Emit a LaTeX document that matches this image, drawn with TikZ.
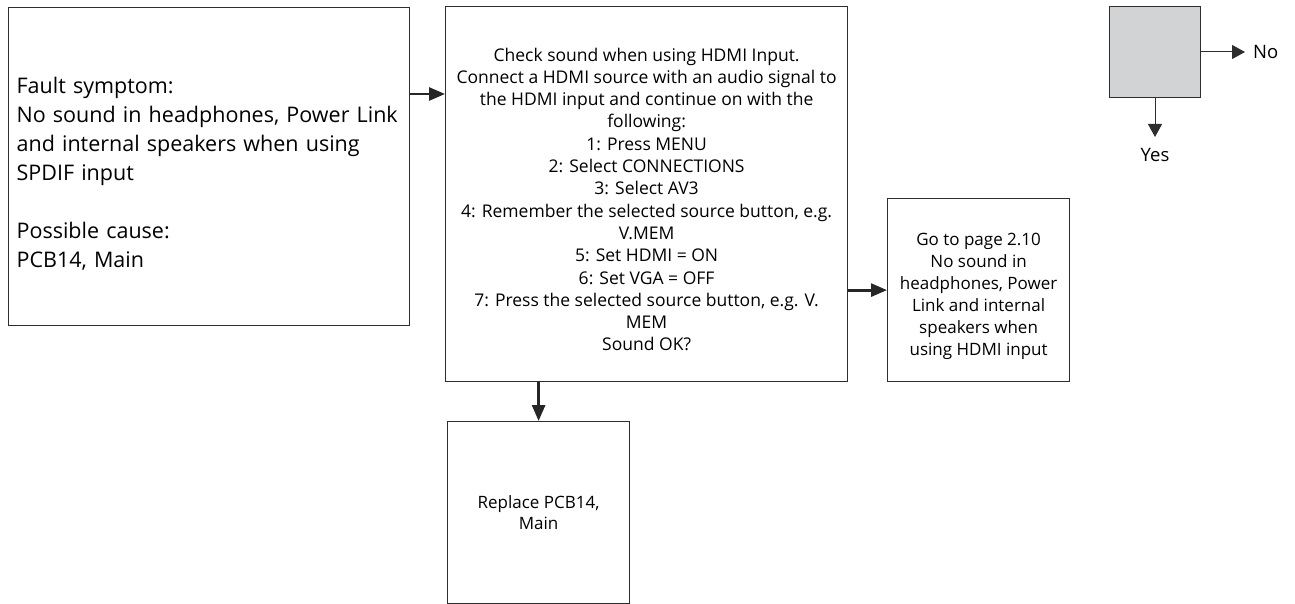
\documentclass[tikz,border=0pt]{standalone}
\usepackage{fontspec}
\setmainfont{Open Sans}
\usetikzlibrary{arrows.meta,positioning}
\definecolor{boxgray}{RGB}{210,211,213}
\definecolor{framegray}{RGB}{45,45,45}
\tikzset{
  stepbox/.style={draw=framegray,line width=1.2pt,inner sep=0pt,align=center},
  flow/.style={-{Triangle[length=16pt,width=13pt]},line width=2.8pt,draw=black!85,fill=black!85},
  legendline/.style={-{Triangle[length=13pt,width=14pt]},line width=1pt,draw=framegray}
}
\begin{document}
\begin{tikzpicture}[x=1pt,y=1pt]
  \useasboundingbox (0,0) rectangle (1295,-604);
  % fault box
  \node[stepbox,anchor=north west,minimum width=401pt,minimum height=318pt,
        text width=385pt,align=left,font=\fontsize{21.5}{29}\selectfont] (fault) at (8,-7)
    {\rule{0pt}{30pt}Fault symptom:\\No sound in headphones, Power Link\\and internal speakers when using\\SPDIF input\\[29pt]Possible cause:\\PCB14, Main};
  % check box
  \node[stepbox,anchor=north west,minimum width=402pt,minimum height=375pt,
        font=\fontsize{17.5}{22.3}\selectfont] (check) at (445,-6)
    {\rule{0pt}{24pt}Check sound when using HDMI Input.\\Connect a HDMI source with an audio signal to\\the HDMI input and continue on with the\\following:\\1: Press MENU\\2: Select CONNECTIONS\\3: Select AV3\\4: Remember the selected source button, e.g.\\V.MEM\\5: Set HDMI = ON\\6: Set VGA = OFF\\7: Press the selected source button, e.g. V.\\MEM\\Sound OK?};
  % go to box
  \node[stepbox,anchor=north west,minimum width=182pt,minimum height=183pt,
        font=\fontsize{17}{22}\selectfont] (goto) at (887,-198)
    {\rule{0pt}{24pt}Go to page 2.10\\No sound in\\headphones, Power\\Link and internal\\speakers when\\using HDMI input};
  % replace box
  \node[stepbox,anchor=north west,minimum width=182pt,minimum height=182pt,
        font=\fontsize{17}{21}\selectfont] (replace) at (447,-421)
    {Replace PCB14,\\Main};
  % legend
  \node[draw=framegray,line width=1pt,fill=boxgray,minimum size=91pt,anchor=north west] (key) at (1109,-6) {};
  \node[anchor=west,font=\fontsize{18.5}{22}\selectfont,inner sep=0pt] (no) at (1253,-52) {No};
  \node[anchor=north,font=\fontsize{18.5}{22}\selectfont,inner sep=0pt] (yes) at (1155,-148) {Yes};
  \coordinate (noend) at (1245,-52);
  \coordinate (yesend) at (1155,-137);
  \draw[legendline] (key.east |- noend) -- (noend);
  \draw[legendline] (key.south -| yesend) -- (yesend);
  % connectors
  \draw[flow] ([yshift=-87pt]fault.north east) -- ([yshift=-88pt]check.north west);
  \draw[flow] (check.east |- goto.west) -- (goto.west);
  \draw[flow] (replace.north |- check.south) -- (replace.north);
\end{tikzpicture}
\end{document}
